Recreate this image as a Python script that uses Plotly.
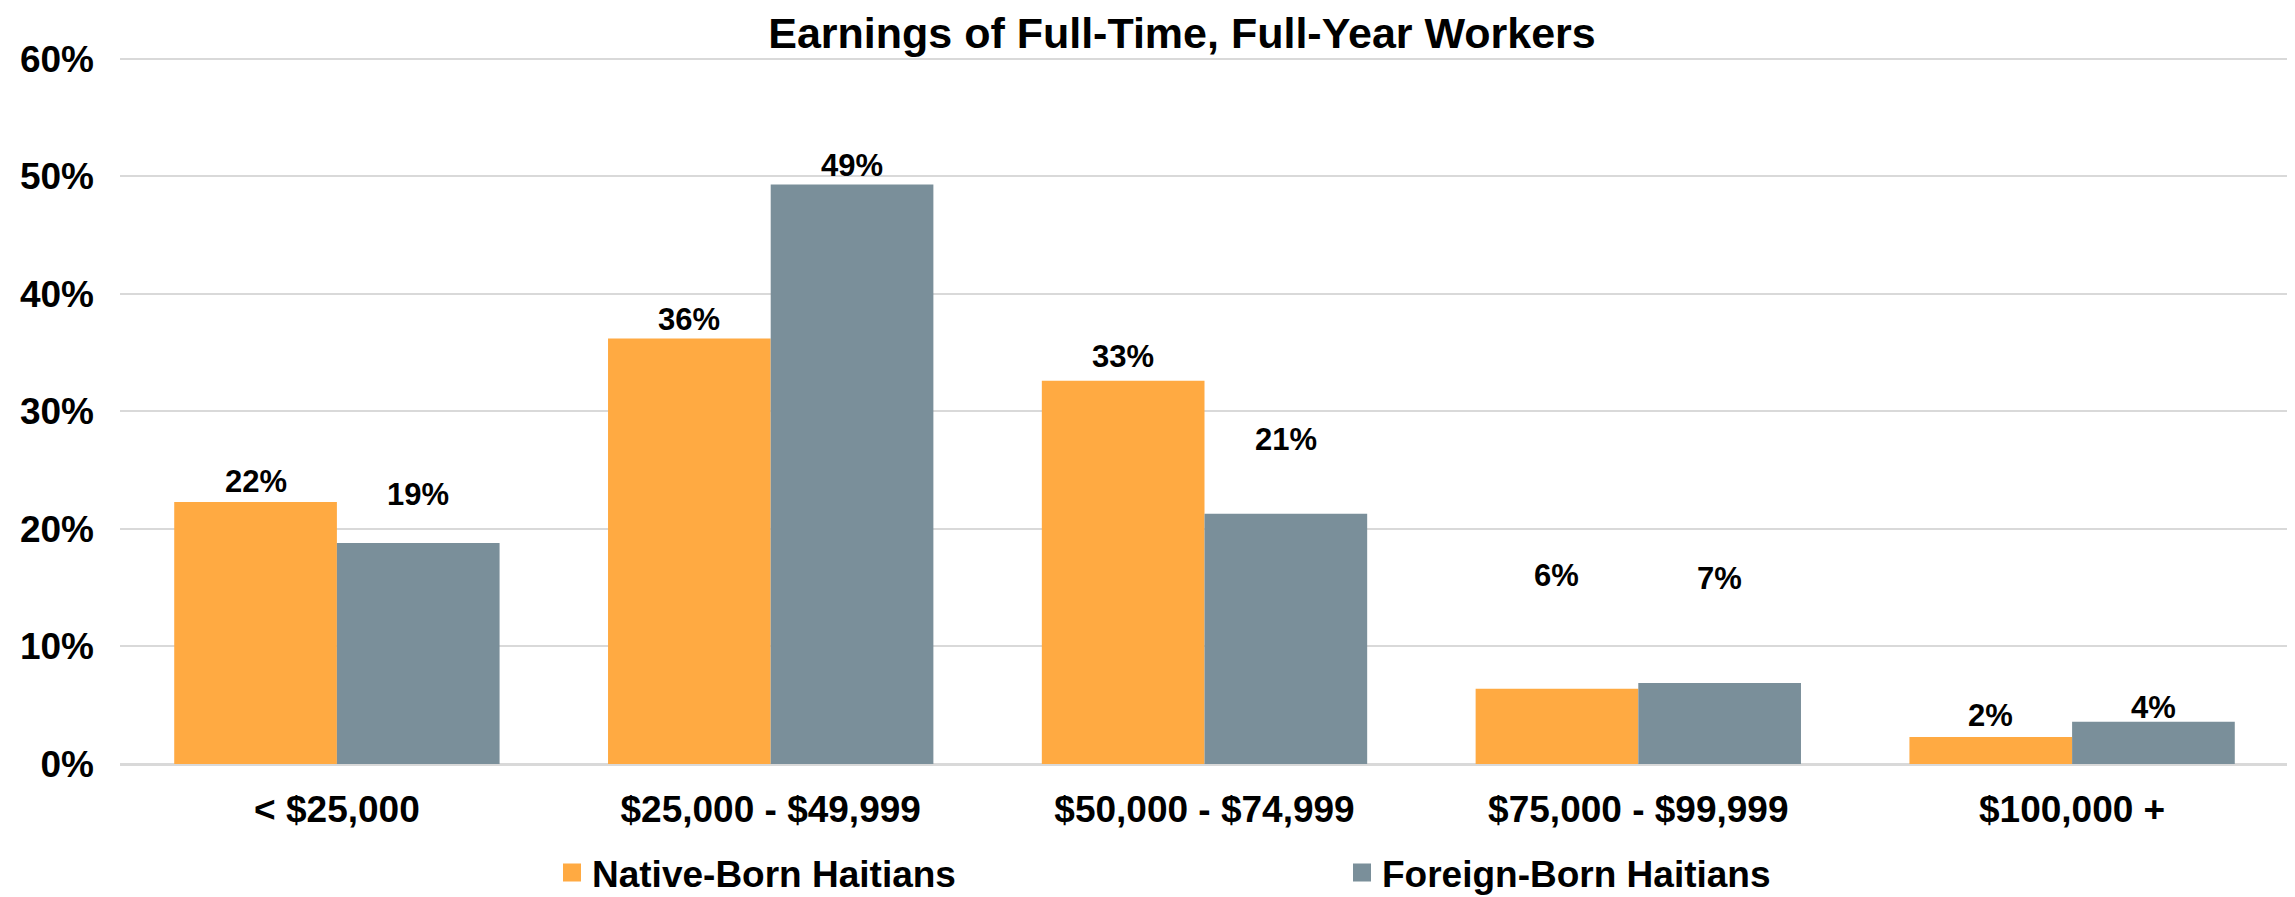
import plotly.graph_objects as go

categories = ["< $25,000", "$25,000 - $49,999", "$50,000 - $74,999", "$75,000 - $99,999", "$100,000 +"]
native_born = [22.3, 36.2, 32.6, 6.4, 2.3]
foreign_born = [18.8, 49.3, 21.3, 6.9, 3.6]
native_labels = ["22%", "36%", "33%", "6%", "2%"]
foreign_labels = ["19%", "49%", "21%", "7%", "4%"]
native_label_y = [24.0, 37.8, 34.7, 16.0, 4.1]
foreign_label_y = [22.9, 50.9, 27.6, 15.8, 4.8]
y_ticks = [0, 10, 20, 30, 40, 50, 60]
y_tick_text = ["0%", "10%", "20%", "30%", "40%", "50%", "60%"]
series_names = ["Native-Born Haitians", "Foreign-Born Haitians"]

ORANGE = "#FFAA42"
GRAY = "#7A8F9A"
FONT = "Liberation Sans, Arial, sans-serif"

# page body has an 8px default margin; size the figure to fill the rest
OFF = 8
W, H = 2295 - OFF, 897 - OFF
ML, MR, MT, MB = 112, 6, 49, 133
plot_w = W - ML - MR
plot_h = H - MT - MB
y_top = 60.15

fig = go.Figure()
fig.add_trace(go.Bar(name=series_names[0], x=categories, y=native_born,
                     marker=dict(color=ORANGE, line=dict(width=0)), showlegend=False))
fig.add_trace(go.Bar(name=series_names[1], x=categories, y=foreign_born,
                     marker=dict(color=GRAY, line=dict(width=0)), showlegend=False))
# legend entries with larger square swatches
for name, col in zip(series_names, [ORANGE, GRAY]):
    fig.add_trace(go.Scatter(name=name, x=[None], y=[None], mode="markers",
                             marker=dict(symbol="square", size=16, color=col,
                                         line=dict(width=2, color=col)),
                             showlegend=True, hoverinfo="skip"))

cat_px = plot_w / len(categories)
bargap = 0.25
half = cat_px * (1 - bargap) / 4
ann = []
for c, t, yv in zip(categories, native_labels, native_label_y):
    ann.append(dict(x=c, y=yv, xref="x", yref="y", text=t, showarrow=False,
                    xshift=-half, yanchor="middle",
                    font=dict(family=FONT, size=31, color="black", weight="bold")))
for c, t, yv in zip(categories, foreign_labels, foreign_label_y):
    ann.append(dict(x=c, y=yv, xref="x", yref="y", text=t, showarrow=False,
                    xshift=half, yanchor="middle",
                    font=dict(family=FONT, size=31, color="black", weight="bold")))

legend_px_x = 552 - OFF
legend_px_y = 873 - OFF

fig.update_layout(
    width=W, height=H,
    margin=dict(l=ML, r=MR, t=MT, b=MB, pad=0, autoexpand=False),
    paper_bgcolor="white", plot_bgcolor="white",
    barmode="group", bargap=bargap, bargroupgap=0,
    title=dict(text="Earnings of Full-Time, Full-Year Workers",
               x=(1182 - OFF) / W, xanchor="center", xref="container",
               y=1 - (33 - OFF) / H, yanchor="middle", yref="container",
               font=dict(family=FONT, size=43, color="black", weight="bold")),
    font=dict(family=FONT, color="black"),
    xaxis=dict(showgrid=False, showline=False, zeroline=False, ticks="",
               automargin=False,
               tickfont=dict(family=FONT, size=37, color="black", weight="bold"),
               ticklabelstandoff=20),
    yaxis=dict(range=[0, y_top], tickvals=y_ticks, ticktext=y_tick_text,
               showgrid=True, gridcolor="#D9D9D9", gridwidth=2,
               zeroline=True, zerolinecolor="#D9D9D9", zerolinewidth=3,
               showline=False, ticks="", automargin=False,
               tickfont=dict(family=FONT, size=37, color="black", weight="bold"),
               ticklabelstandoff=25),
    legend=dict(orientation="h", x=(legend_px_x - ML) / plot_w, xanchor="left",
                y=(MT + plot_h - legend_px_y) / plot_h, yanchor="middle",
                font=dict(family=FONT, size=37, color="black", weight="bold"),
                entrywidth=745, entrywidthmode="pixels",
                bgcolor="rgba(0,0,0,0)", traceorder="normal"),
    annotations=ann,
)

fig.write_html("out.html")
